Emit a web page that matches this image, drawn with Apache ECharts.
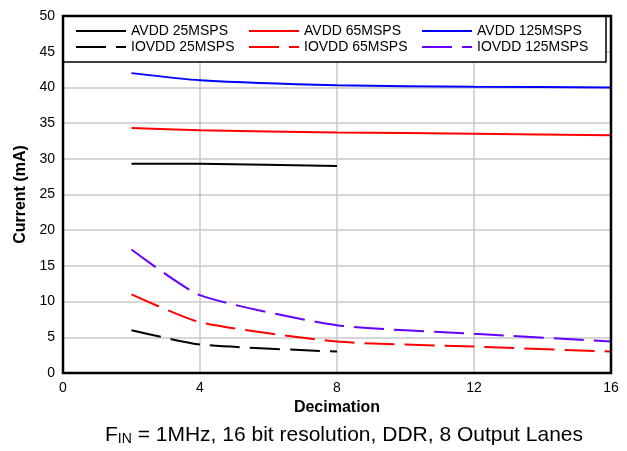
<!DOCTYPE html>
<html>
<head>
<meta charset="utf-8">
<script src="https://cdn.jsdelivr.net/npm/echarts@6/dist/echarts.min.js"></script>
<style>
  html, body { margin: 0; padding: 0; background: #fff; }
  #chart { width: 627px; height: 451px; }
</style>
</head>
<body>
<div id="chart"></div>
<script>
// decimation values where data was measured
var decimation = [2, 4, 8, 12, 16]
var decimation25 = [2, 4, 8]

var avdd25 = [29.3, 29.3, 29.0]
var avdd65 = [34.3, 34.0, 33.7, 33.5, 33.3]
var avdd125 = [42.0, 41.0, 40.3, 40.1, 40.0]
var iovdd25 = [6.0, 4.0, 3.0]
var iovdd65 = [11.0, 7.1, 4.4, 3.7, 3.0]
var iovdd125 = [17.3, 10.9, 6.7, 5.5, 4.4]

var xTicks = [0, 4, 8, 12, 16]
var yTicks = [0, 5, 10, 15, 20, 25, 30, 35, 40, 45, 50]

function pairs (xs, ys) {
  return ys.map(function (y, i) { return [xs[i], y] })
}

function mkSeries (name, xs, ys, color, dashed) {
  return {
    name: name,
    type: 'line',
    data: pairs(xs, ys),
    smooth: 0.2,
    symbol: 'none',
    z: 2,
    itemStyle: { color: color },
    lineStyle: {
      color: color,
      width: 2,
      type: dashed ? [30, 10] : 'solid'
    }
  }
}

var chart = echarts.init(document.getElementById('chart'))

var legendBase = {
  orient: 'vertical',
  top: 19,
  itemWidth: 50,
  itemHeight: 10,
  itemGap: 2,
  z: 10,
  itemStyle: { opacity: 0 },
  textStyle: { fontFamily: 'Liberation Sans', fontSize: 14, color: '#000' }
}

var option = {
  animation: false,
  backgroundColor: '#fff',
  grid: {
    left: 63, right: 16, top: 16, bottom: 78,
    show: true,
    borderColor: '#000',
    borderWidth: 2
  },
  title: {
    left: 339,
    textAlign: 'center',
    top: 417,
    text: '{a|F}{b|IN}{a| = 1MHz, 16 bit resolution, DDR, 8 Output Lanes}',
    textStyle: {
      fontWeight: 'normal',
      rich: {
        a: { fontFamily: 'Liberation Sans', fontSize: 21, fontWeight: 'normal', color: '#000', lineHeight: 26 },
        b: { fontFamily: 'Liberation Sans', fontSize: 14, fontWeight: 'normal', color: '#000', lineHeight: 26, padding: [9, 0, 0, 0] }
      }
    }
  },
  legend: [
    Object.assign({}, legendBase, { left: 70, data: ['AVDD 25MSPS', 'IOVDD 25MSPS'] }),
    Object.assign({}, legendBase, { left: 243, data: ['AVDD 65MSPS', 'IOVDD 65MSPS'] }),
    Object.assign({}, legendBase, { left: 416, data: ['AVDD 125MSPS', 'IOVDD 125MSPS'] })
  ],
  graphic: [{
    type: 'rect',
    shape: { x: 63, y: 16, width: 543, height: 46 },
    style: { fill: '#fff', stroke: '#000', lineWidth: 1.5 },
    z: 5
  }, {
    // plot frame drawn on top of the grid lines
    type: 'rect',
    shape: { x: 63, y: 16, width: 548, height: 357 },
    style: { fill: 'none', stroke: '#000', lineWidth: 2.5 },
    z: 6
  }],
  xAxis: {
    type: 'value',
    min: xTicks[0],
    max: xTicks[xTicks.length - 1],
    interval: 4,
    name: 'Decimation',
    nameLocation: 'middle',
    nameGap: 24,
    nameTextStyle: { fontFamily: 'Liberation Sans', fontSize: 16, fontWeight: 'bold', color: '#000' },
    axisLine: { lineStyle: { color: '#000', width: 2 } },
    axisTick: { show: false },
    axisLabel: { fontFamily: 'Liberation Sans', fontSize: 14, color: '#000', margin: 8 },
    splitLine: { lineStyle: { color: '#c8c8c8', width: 1.5 } }
  },
  yAxis: {
    type: 'value',
    min: yTicks[0],
    max: yTicks[yTicks.length - 1],
    interval: 5,
    name: 'Current (mA)',
    nameLocation: 'middle',
    nameGap: 32,
    nameTextStyle: { fontFamily: 'Liberation Sans', fontSize: 16, fontWeight: 'bold', color: '#000' },
    axisLine: { show: true, lineStyle: { color: '#000', width: 2 } },
    axisTick: { show: false },
    axisLabel: { fontFamily: 'Liberation Sans', fontSize: 14, color: '#000', margin: 8 },
    splitLine: { lineStyle: { color: '#c8c8c8', width: 1.5 } }
  },
  series: [
    mkSeries('AVDD 25MSPS', decimation25, avdd25, '#000000', false),
    mkSeries('IOVDD 25MSPS', decimation25, iovdd25, '#000000', true),
    mkSeries('AVDD 65MSPS', decimation, avdd65, '#ff0000', false),
    mkSeries('IOVDD 65MSPS', decimation, iovdd65, '#ff0000', true),
    mkSeries('AVDD 125MSPS', decimation, avdd125, '#0000ff', false),
    mkSeries('IOVDD 125MSPS', decimation, iovdd125, '#6600ff', true)
  ]
}

chart.setOption(option)
</script>
</body>
</html>
